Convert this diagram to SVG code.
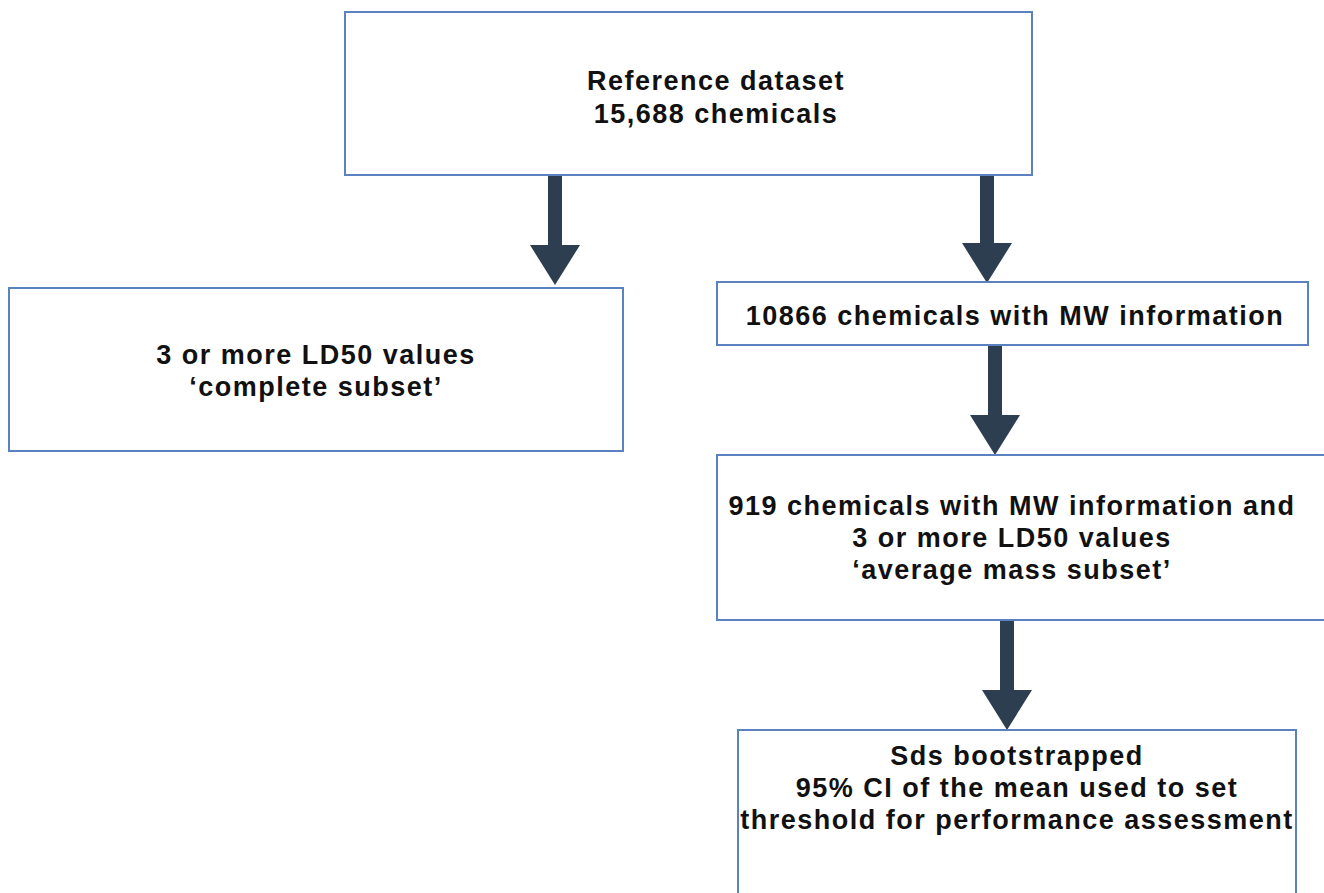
<svg xmlns="http://www.w3.org/2000/svg" width="1324" height="893" viewBox="0 0 1324 893">
<style>
.box{fill:#fff;stroke:#5b82c0;stroke-width:2}
.t{font-family:"Comic Sans MS","Liberation Sans","Arial",sans-serif;font-weight:bold;font-size:27px;letter-spacing:1.5px;fill:#111;text-anchor:middle}
.arr{fill:#2d3e51}
</style>
<rect width="1324" height="893" fill="#fff"/>
<g id="connectors">
<path class="arr" d="M548,175 h14 v70 h18 l-25,40 l-25,-40 h18 z"/>
<path class="arr" d="M980,175 h14 v68 h18 l-25,40 l-25,-40 h18 z"/>
<path class="arr" d="M988,345 h14 v70 h18 l-25,40 l-25,-40 h18 z"/>
<path class="arr" d="M1000,620 h14 v70 h18 l-25,40 l-25,-40 h18 z"/>
</g>
<g id="n1">
<rect class="box" x="345" y="12" width="687" height="163"/>
<text class="t" x="716" y="90">Reference dataset</text>
<text class="t" x="716" y="123">15,688 chemicals</text>
</g>
<g id="n2">
<rect class="box" x="9" y="288" width="614" height="163"/>
<text class="t" x="316" y="364">3 or more LD50 values</text>
<text class="t" x="316" y="396">‘complete subset’</text>
</g>
<g id="n3">
<rect class="box" x="717" y="282" width="591" height="63"/>
<text class="t" x="1015" y="325">10866 chemicals with MW information</text>
</g>
<g id="n4">
<rect class="box" x="717" y="455" width="620" height="165"/>
<text class="t" x="1012" y="515">919 chemicals with MW information and</text>
<text class="t" x="1012" y="547">3 or more LD50 values</text>
<text class="t" x="1012" y="579">‘average mass subset’</text>
</g>
<g id="n5">
<rect class="box" x="738" y="730" width="558" height="175"/>
<text class="t" x="1017" y="765">Sds bootstrapped</text>
<text class="t" x="1017" y="797">95% CI of the mean used to set</text>
<text class="t" x="1017" y="829">threshold for performance assessment</text>
</g>
</svg>
